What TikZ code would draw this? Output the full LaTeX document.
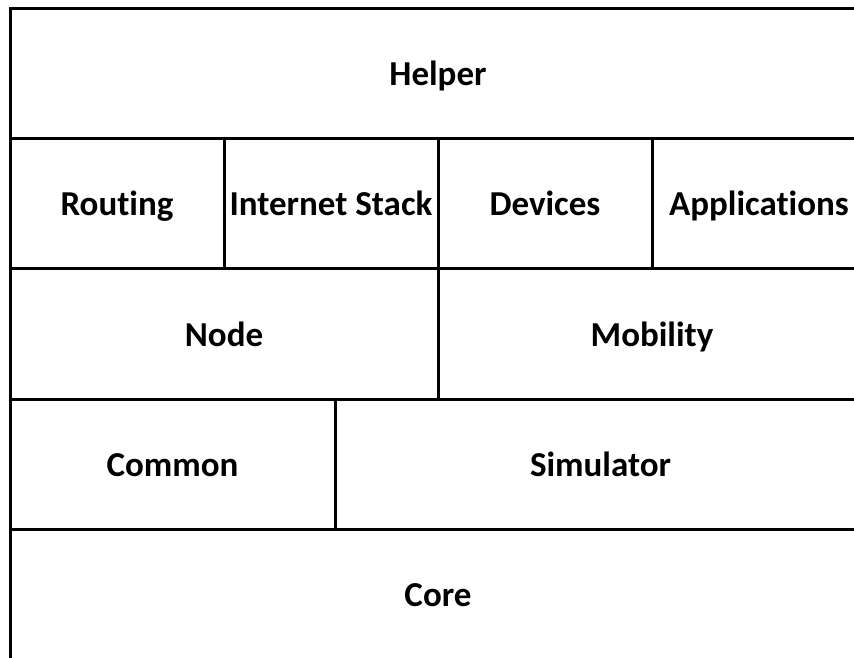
\documentclass[tikz,border=0pt]{standalone}
\usepackage{fontspec}
\setmainfont{Carlito}[Ligatures={NoCommon,NoRare}, Contextuals=NoAlternate]
\begin{document}
\begin{tikzpicture}[x=1pt,y=-1pt,
  cell/.style={draw=black, line width=3pt, rectangle, inner sep=0pt,
    text height=28pt, text depth=3pt,
    font=\fontsize{35}{41}\selectfont\bfseries, text=black},
  full/.style={cell, minimum width=856pt, minimum height=130pt},
  quarter/.style={cell, minimum width=214pt, minimum height=130pt},
  half/.style={cell, minimum width=428pt, minimum height=131pt}]
\useasboundingbox (0,0) rectangle (854,657);
\clip (0,0) rectangle (854,657);
% top layer
\node[full] (helper) at (438,73) {Helper};
% modules layer
\node[quarter] (routing) at (117,203) {Routing};
\node[quarter] (inet) at (331,203) {Internet Stack};
\node[quarter] (devices) at (545,203) {Devices};
\node[quarter] (apps) at (759,203) {Applications};
% node / mobility
\node[half] (node) at (224,333.5) {Node};
\node[half] (mobility) at (652,333.5) {Mobility};
% common / simulator
\node[cell, minimum width=325pt, minimum height=130pt] (common) at (172.5,464) {Common};
\node[cell, minimum width=531pt, minimum height=130pt] (simulator) at (600.5,464) {Simulator};
% base layer
\node[full] (core) at (438,594) {Core};
\end{tikzpicture}
\end{document}
